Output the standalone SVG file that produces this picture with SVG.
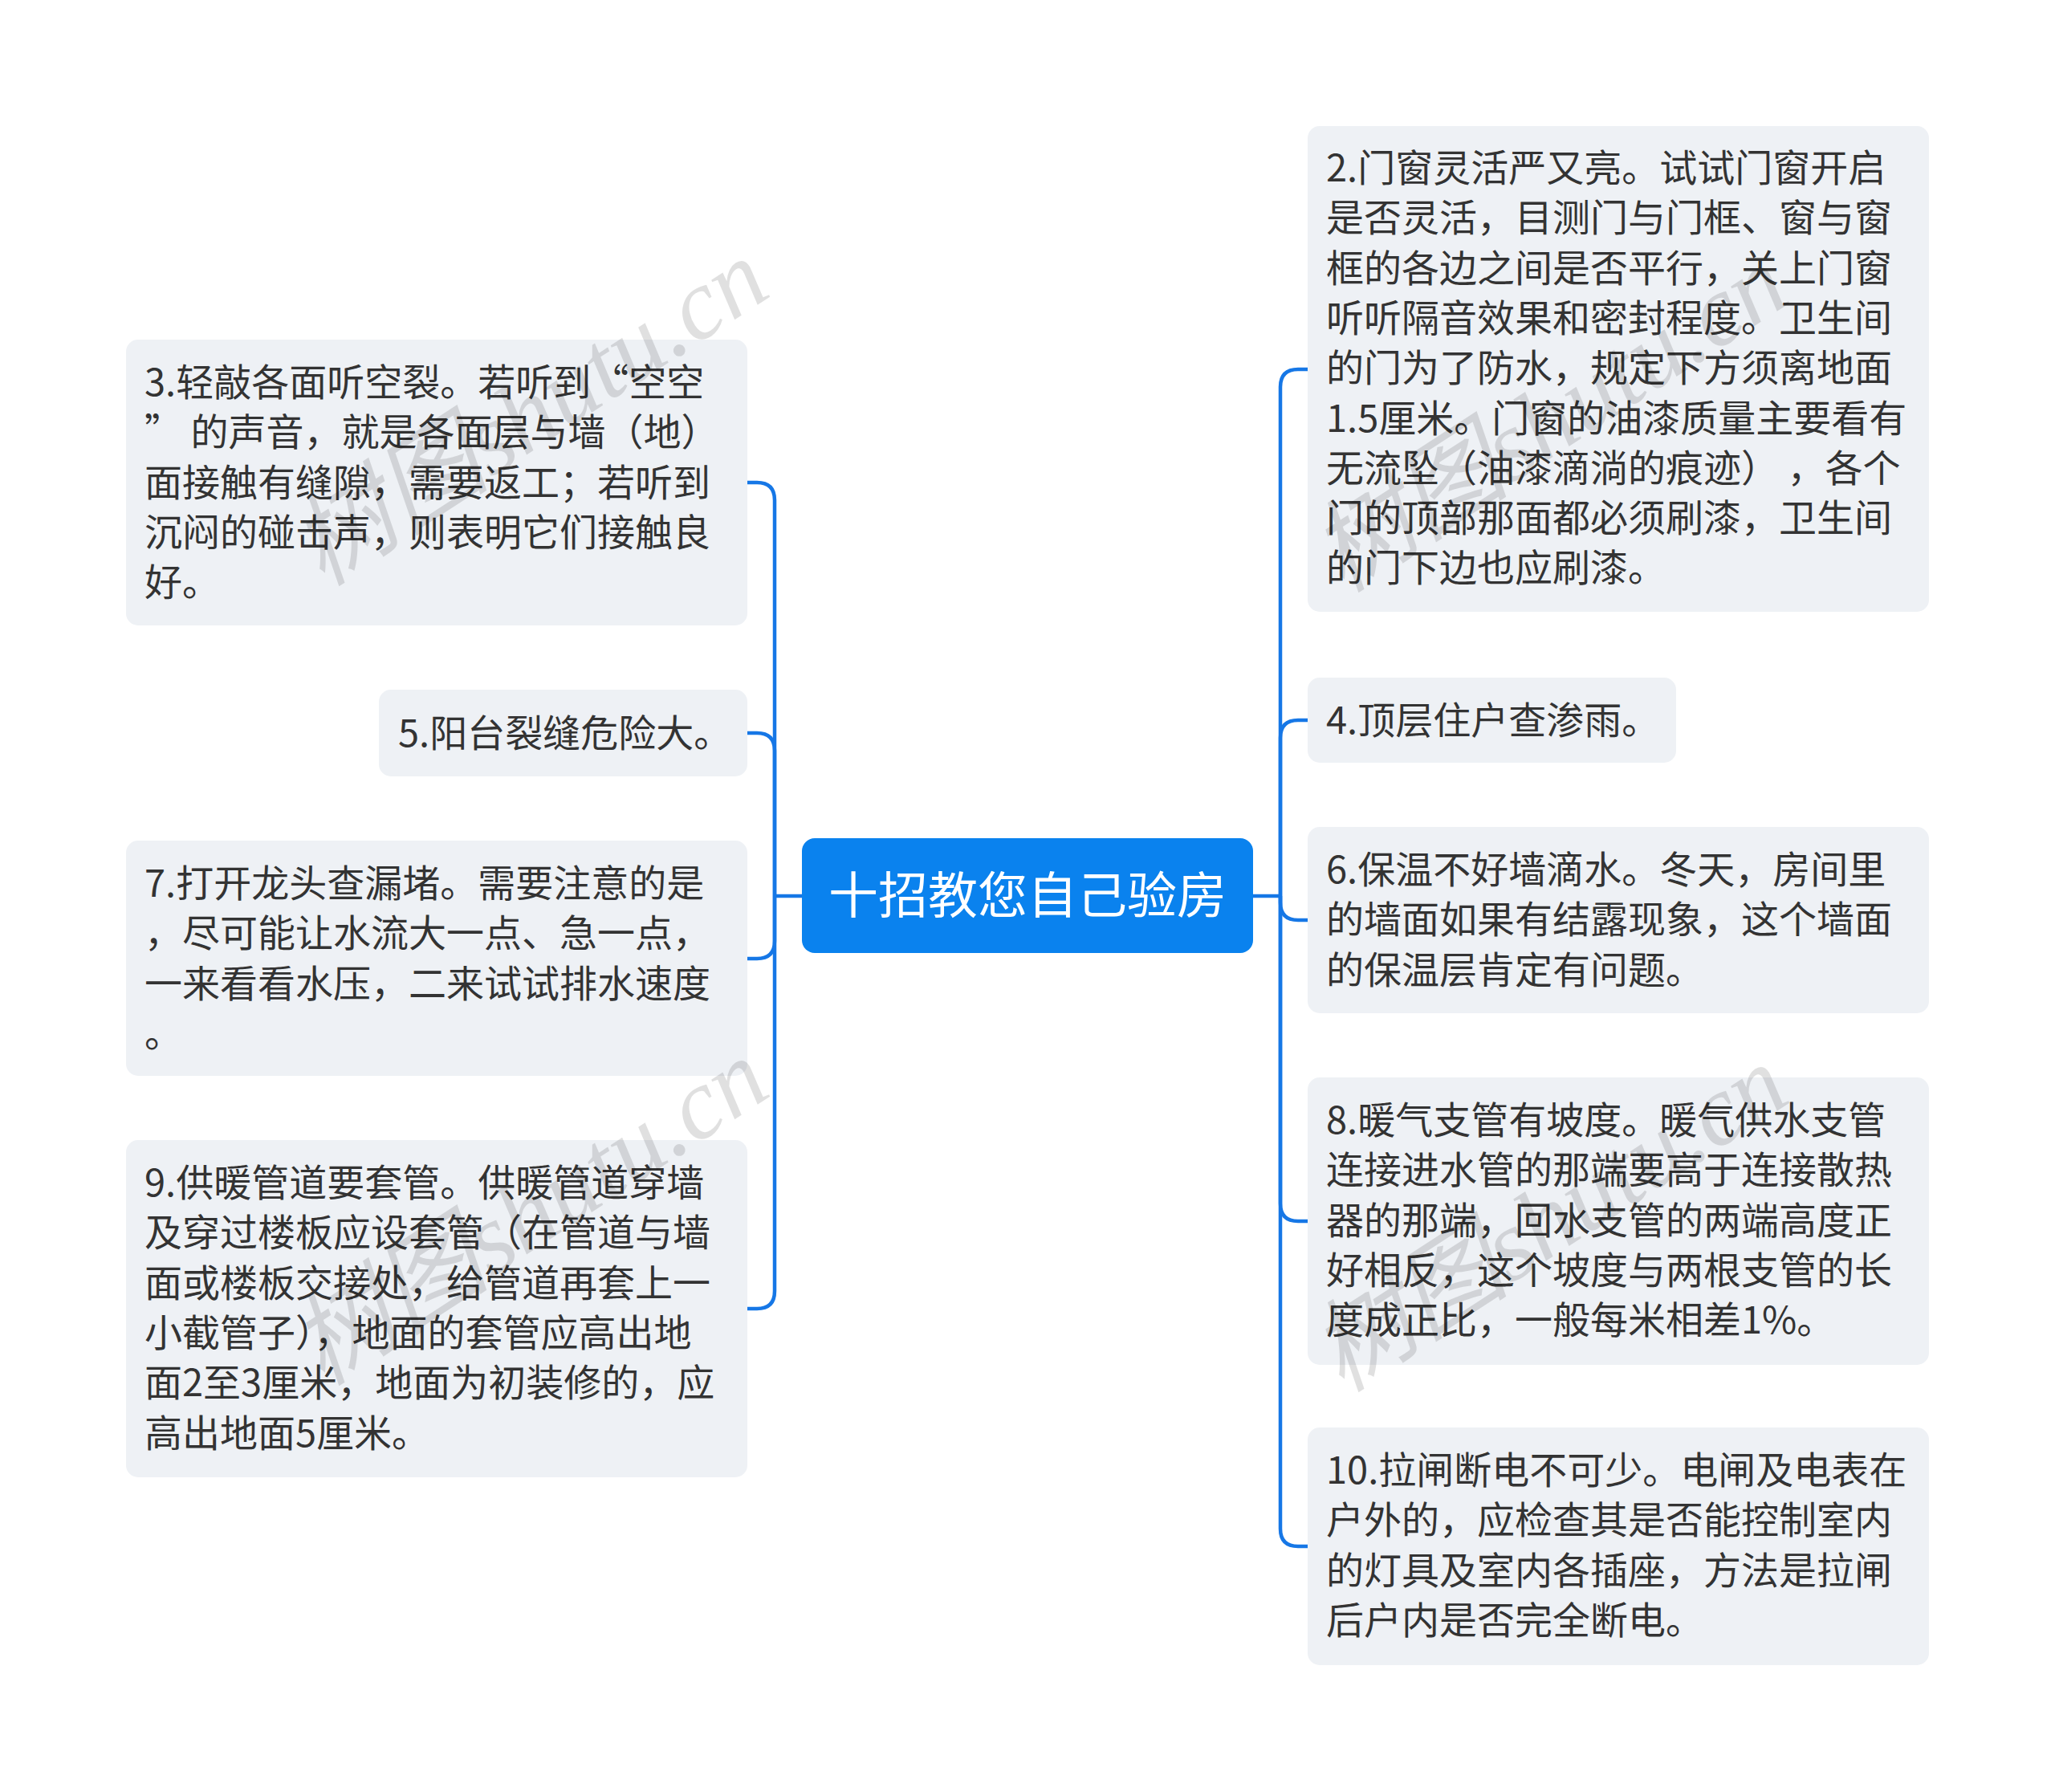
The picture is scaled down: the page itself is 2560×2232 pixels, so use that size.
<svg xmlns="http://www.w3.org/2000/svg" width="2560" height="2232" viewBox="0 0 2560 2232">
<style>
.box{fill:#EEF1F5;}
.root{fill:#0A82EE;}
.t{font-family:"Noto Sans CJK SC","Noto Sans",sans-serif;font-size:47px;fill:#333333;}
.rt{font-family:"Noto Sans CJK SC","Noto Sans",sans-serif;font-size:62px;fill:#FFFFFF;}
.c{fill:none;stroke:#1677E6;stroke-width:4.5;stroke-linecap:butt;}
.wm{font-family:"Liberation Serif","Noto Sans CJK SC",serif;font-style:italic;font-size:125px;fill:#000000;fill-opacity:0.12;}
</style>
<rect width="2560" height="2232" fill="#FFFFFF"/>
<g id="connectors">
<path class="c" d="M999,1116 H965"/>
<path class="c" d="M965,1116 V623 Q965,601 943,601 H931"/>
<path class="c" d="M965,1116 V935 Q965,913 943,913 H931"/>
<path class="c" d="M965,1116 V1172 Q965,1194 943,1194 H931"/>
<path class="c" d="M965,1116 V1608 Q965,1630 943,1630 H931"/>
<path class="c" d="M1561,1116 H1595"/>
<path class="c" d="M1595,1116 V482 Q1595,460 1617,460 H1629"/>
<path class="c" d="M1595,1116 V919 Q1595,897 1617,897 H1629"/>
<path class="c" d="M1595,1116 V1124 Q1595,1146 1617,1146 H1629"/>
<path class="c" d="M1595,1116 V1499 Q1595,1521 1617,1521 H1629"/>
<path class="c" d="M1595,1116 V1904 Q1595,1926 1617,1926 H1629"/>
</g>
<g id="root">
<rect class="root" x="999" y="1044" width="562" height="143" rx="16"/>
<text class="rt" x="1280" y="1138" text-anchor="middle">十招教您自己验房</text>
</g>
<g id="node3">
<rect class="box" x="157" y="423" width="774" height="356" rx="15"/>
<text class="t" x="180" y="493">3.轻敲各面听空裂。若听到“空空</text>
<text class="t" x="180" y="555.3">” 的声音，就是各面层与墙（地）</text>
<text class="t" x="180" y="617.6">面接触有缝隙，需要返工；若听到</text>
<text class="t" x="180" y="679.9">沉闷的碰击声，则表明它们接触良</text>
<text class="t" x="180" y="742.2">好。</text>
</g>
<g id="node5">
<rect class="box" x="472" y="859" width="459" height="108" rx="15"/>
<text class="t" x="496" y="930">5.阳台裂缝危险大。</text>
</g>
<g id="node7">
<rect class="box" x="157" y="1047" width="774" height="293" rx="15"/>
<text class="t" x="180" y="1117">7.打开龙头查漏堵。需要注意的是</text>
<text class="t" x="180" y="1179.3">，尽可能让水流大一点、急一点，</text>
<text class="t" x="180" y="1241.6">一来看看水压，二来试试排水速度</text>
<text class="t" x="180" y="1303.9">。</text>
</g>
<g id="node9">
<rect class="box" x="157" y="1420" width="774" height="420" rx="15"/>
<text class="t" x="180" y="1490">9.供暖管道要套管。供暖管道穿墙</text>
<text class="t" x="180" y="1552.3">及穿过楼板应设套管（在管道与墙</text>
<text class="t" x="180" y="1614.6">面或楼板交接处，给管道再套上一</text>
<text class="t" x="180" y="1676.9">小截管子），地面的套管应高出地</text>
<text class="t" x="180" y="1739.2">面2至3厘米，地面为初装修的，应</text>
<text class="t" x="180" y="1801.5">高出地面5厘米。</text>
</g>
<g id="node2">
<rect class="box" x="1629" y="157" width="774" height="605" rx="15"/>
<text class="t" x="1652" y="226">2.门窗灵活严又亮。试试门窗开启</text>
<text class="t" x="1652" y="288.3">是否灵活，目测门与门框、窗与窗</text>
<text class="t" x="1652" y="350.6">框的各边之间是否平行，关上门窗</text>
<text class="t" x="1652" y="412.9">听听隔音效果和密封程度。卫生间</text>
<text class="t" x="1652" y="475.2">的门为了防水，规定下方须离地面</text>
<text class="t" x="1652" y="537.5">1.5厘米。门窗的油漆质量主要看有</text>
<text class="t" x="1652" y="599.8">无流坠（油漆滴淌的痕迹） ，各个</text>
<text class="t" x="1652" y="662.1">门的顶部那面都必须刷漆，卫生间</text>
<text class="t" x="1652" y="724.4">的门下边也应刷漆。</text>
</g>
<g id="node4">
<rect class="box" x="1629" y="844" width="459" height="106" rx="15"/>
<text class="t" x="1652" y="914">4.顶层住户查渗雨。</text>
</g>
<g id="node6">
<rect class="box" x="1629" y="1030" width="774" height="232" rx="15"/>
<text class="t" x="1652" y="1100">6.保温不好墙滴水。冬天，房间里</text>
<text class="t" x="1652" y="1162.3">的墙面如果有结露现象，这个墙面</text>
<text class="t" x="1652" y="1224.6">的保温层肯定有问题。</text>
</g>
<g id="node8">
<rect class="box" x="1629" y="1342" width="774" height="358" rx="15"/>
<text class="t" x="1652" y="1412">8.暖气支管有坡度。暖气供水支管</text>
<text class="t" x="1652" y="1474.3">连接进水管的那端要高于连接散热</text>
<text class="t" x="1652" y="1536.6">器的那端，回水支管的两端高度正</text>
<text class="t" x="1652" y="1598.9">好相反，这个坡度与两根支管的长</text>
<text class="t" x="1652" y="1661.2">度成正比，一般每米相差1%。</text>
</g>
<g id="node10">
<rect class="box" x="1629" y="1778" width="774" height="296" rx="15"/>
<text class="t" x="1652" y="1848">10.拉闸断电不可少。电闸及电表在</text>
<text class="t" x="1652" y="1910.3">户外的，应检查其是否能控制室内</text>
<text class="t" x="1652" y="1972.6">的灯具及室内各插座，方法是拉闸</text>
<text class="t" x="1652" y="2034.9">后户内是否完全断电。</text>
</g>
<g id="watermarks">
<text class="wm" transform="translate(660,514) rotate(-33)" text-anchor="middle" dominant-baseline="central">树图shutu.cn</text>
<text class="wm" transform="translate(660,1510) rotate(-33)" text-anchor="middle" dominant-baseline="central">树图shutu.cn</text>
<text class="wm" transform="translate(1930,522) rotate(-33)" text-anchor="middle" dominant-baseline="central">树图shutu.cn</text>
<text class="wm" transform="translate(1930,1518) rotate(-33)" text-anchor="middle" dominant-baseline="central">树图shutu.cn</text>
</g>
</svg>
